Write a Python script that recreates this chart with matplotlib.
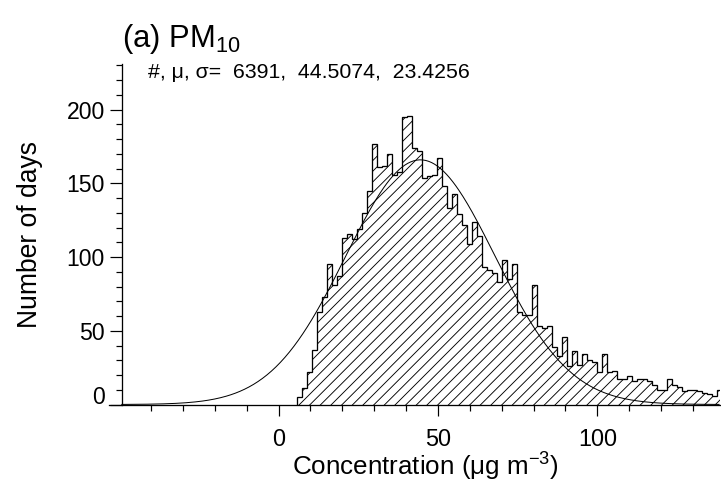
import numpy as np
import matplotlib
matplotlib.use("Agg")
import matplotlib.pyplot as plt
from matplotlib.ticker import MultipleLocator, FixedLocator, FuncFormatter

# summary stats printed on the panel
n_days = 6391
mu = 44.5074
sigma = 23.4256

# histogram of daily PM10 (bins of ~1.57 ug m-3 starting at 5.8)
bin_start = 5.8
bin_width = 1.57
counts = [5, 11, 22, 37, 63, 73, 95, 81, 87, 113, 116, 112, 119, 130, 145,
          177, 161, 162, 170, 156, 158, 195, 196, 174, 172, 154, 155, 156,
          167, 148, 133, 143, 129, 122, 109, 124, 114, 93, 91, 89, 83, 98,
          85, 95, 63, 61, 61, 81, 53, 52, 53, 39, 33, 46, 26, 36, 27, 34,
          30, 29, 22, 34, 22, 23, 17, 17, 19, 16, 17, 17, 16, 13, 10, 10,
          17, 13, 12, 9, 10, 10, 9, 8, 7, 6, 10]
fit_bin = 1.525  # bin size used to scale the normal curve

counts = np.array(counts)
edges = bin_start + bin_width * np.arange(len(counts) + 1)

DPI = 128
px = 72.0 / DPI  # points per pixel

plt.rcParams['font.family'] = ['Liberation Sans', 'DejaVu Sans']
plt.rcParams['mathtext.fontset'] = 'custom'
plt.rcParams['mathtext.rm'] = 'Liberation Sans'
plt.rcParams['mathtext.it'] = 'Liberation Sans:italic'
plt.rcParams['hatch.linewidth'] = 0.9 * px

fig = plt.figure(figsize=(721 / DPI, 486 / DPI), dpi=DPI)
ax = fig.add_axes([109 / 721, 81.5 / 486, 611 / 721, 340.5 / 486])

ax.stairs(counts, edges, fill=True, facecolor='none', edgecolor='black',
          hatch='////', linewidth=1.3 * px)

xg = np.linspace(mu - 4 * sigma, mu + 4 * sigma, 400)
yg = n_days * fit_bin / (sigma * np.sqrt(2 * np.pi)) * np.exp(-0.5 * ((xg - mu) / sigma) ** 2)
ax.plot(xg, yg, color='black', linewidth=1.0 * px)

ax.set_xlim(-53.2, 138.5)
ax.set_ylim(0, 231)

for s in ['top', 'right']:
    ax.spines[s].set_visible(False)
ax.spines['left'].set_position(('data', mu - 4 * sigma))
for s in ['left', 'bottom']:
    ax.spines[s].set_linewidth(1.3 * px)

ax.xaxis.set_major_locator(FixedLocator([0, 50, 100]))
ax.xaxis.set_minor_locator(FixedLocator([v for v in range(-40, 140, 10) if v % 50 != 0]))
ax.yaxis.set_major_locator(MultipleLocator(50))
ax.yaxis.set_minor_locator(MultipleLocator(10))
# zero label is drawn separately, a bit above the axis like IDL does
ax.yaxis.set_major_formatter(FuncFormatter(lambda v, p: '' if v == 0 else '%d' % v))

ax.tick_params(axis='x', which='major', direction='out', length=11 * px, width=1.2 * px,
               pad=14 * px, labelsize=23.5 * px)
ax.tick_params(axis='x', which='minor', direction='out', length=5.5 * px, width=1.2 * px)
ax.tick_params(axis='y', which='major', direction='out', length=12 * px, width=1.2 * px,
               pad=5 * px, labelsize=23 * px)
ax.tick_params(axis='y', which='minor', direction='out', length=6 * px, width=1.2 * px)

ax.annotate('0', xy=(mu - 4 * sigma, 0), xycoords='data', xytext=(-17, 7),
            textcoords='offset pixels', ha='right', va='center', fontsize=23 * px)

ax.set_xlabel('Concentration (\u03bcg m$^{-3}$)', fontsize=26 * px)
ax.xaxis.set_label_coords((425 - 109) / 611, (404.5 - 476) / 340.5)
ax.xaxis.label.set_va('baseline')
ax.set_ylabel('Number of days', fontsize=26.5 * px)
ax.yaxis.set_label_coords((30 - 109) / 611, (404.5 - 235) / 340.5)
ax.yaxis.label.set_va('center')

fig.text(122 / 721, 1 - 47 / 486, '(a) PM$_{10}$', fontsize=31 * px, va='baseline')
fig.text(148 / 721, 1 - 72 / 486,
         '#, \u03bc, \u03c3=  %d,  %.4f,  %.4f' % (n_days, mu, sigma),
         fontsize=21.3 * px, va='center')

plt.savefig('out.png', dpi=DPI)
